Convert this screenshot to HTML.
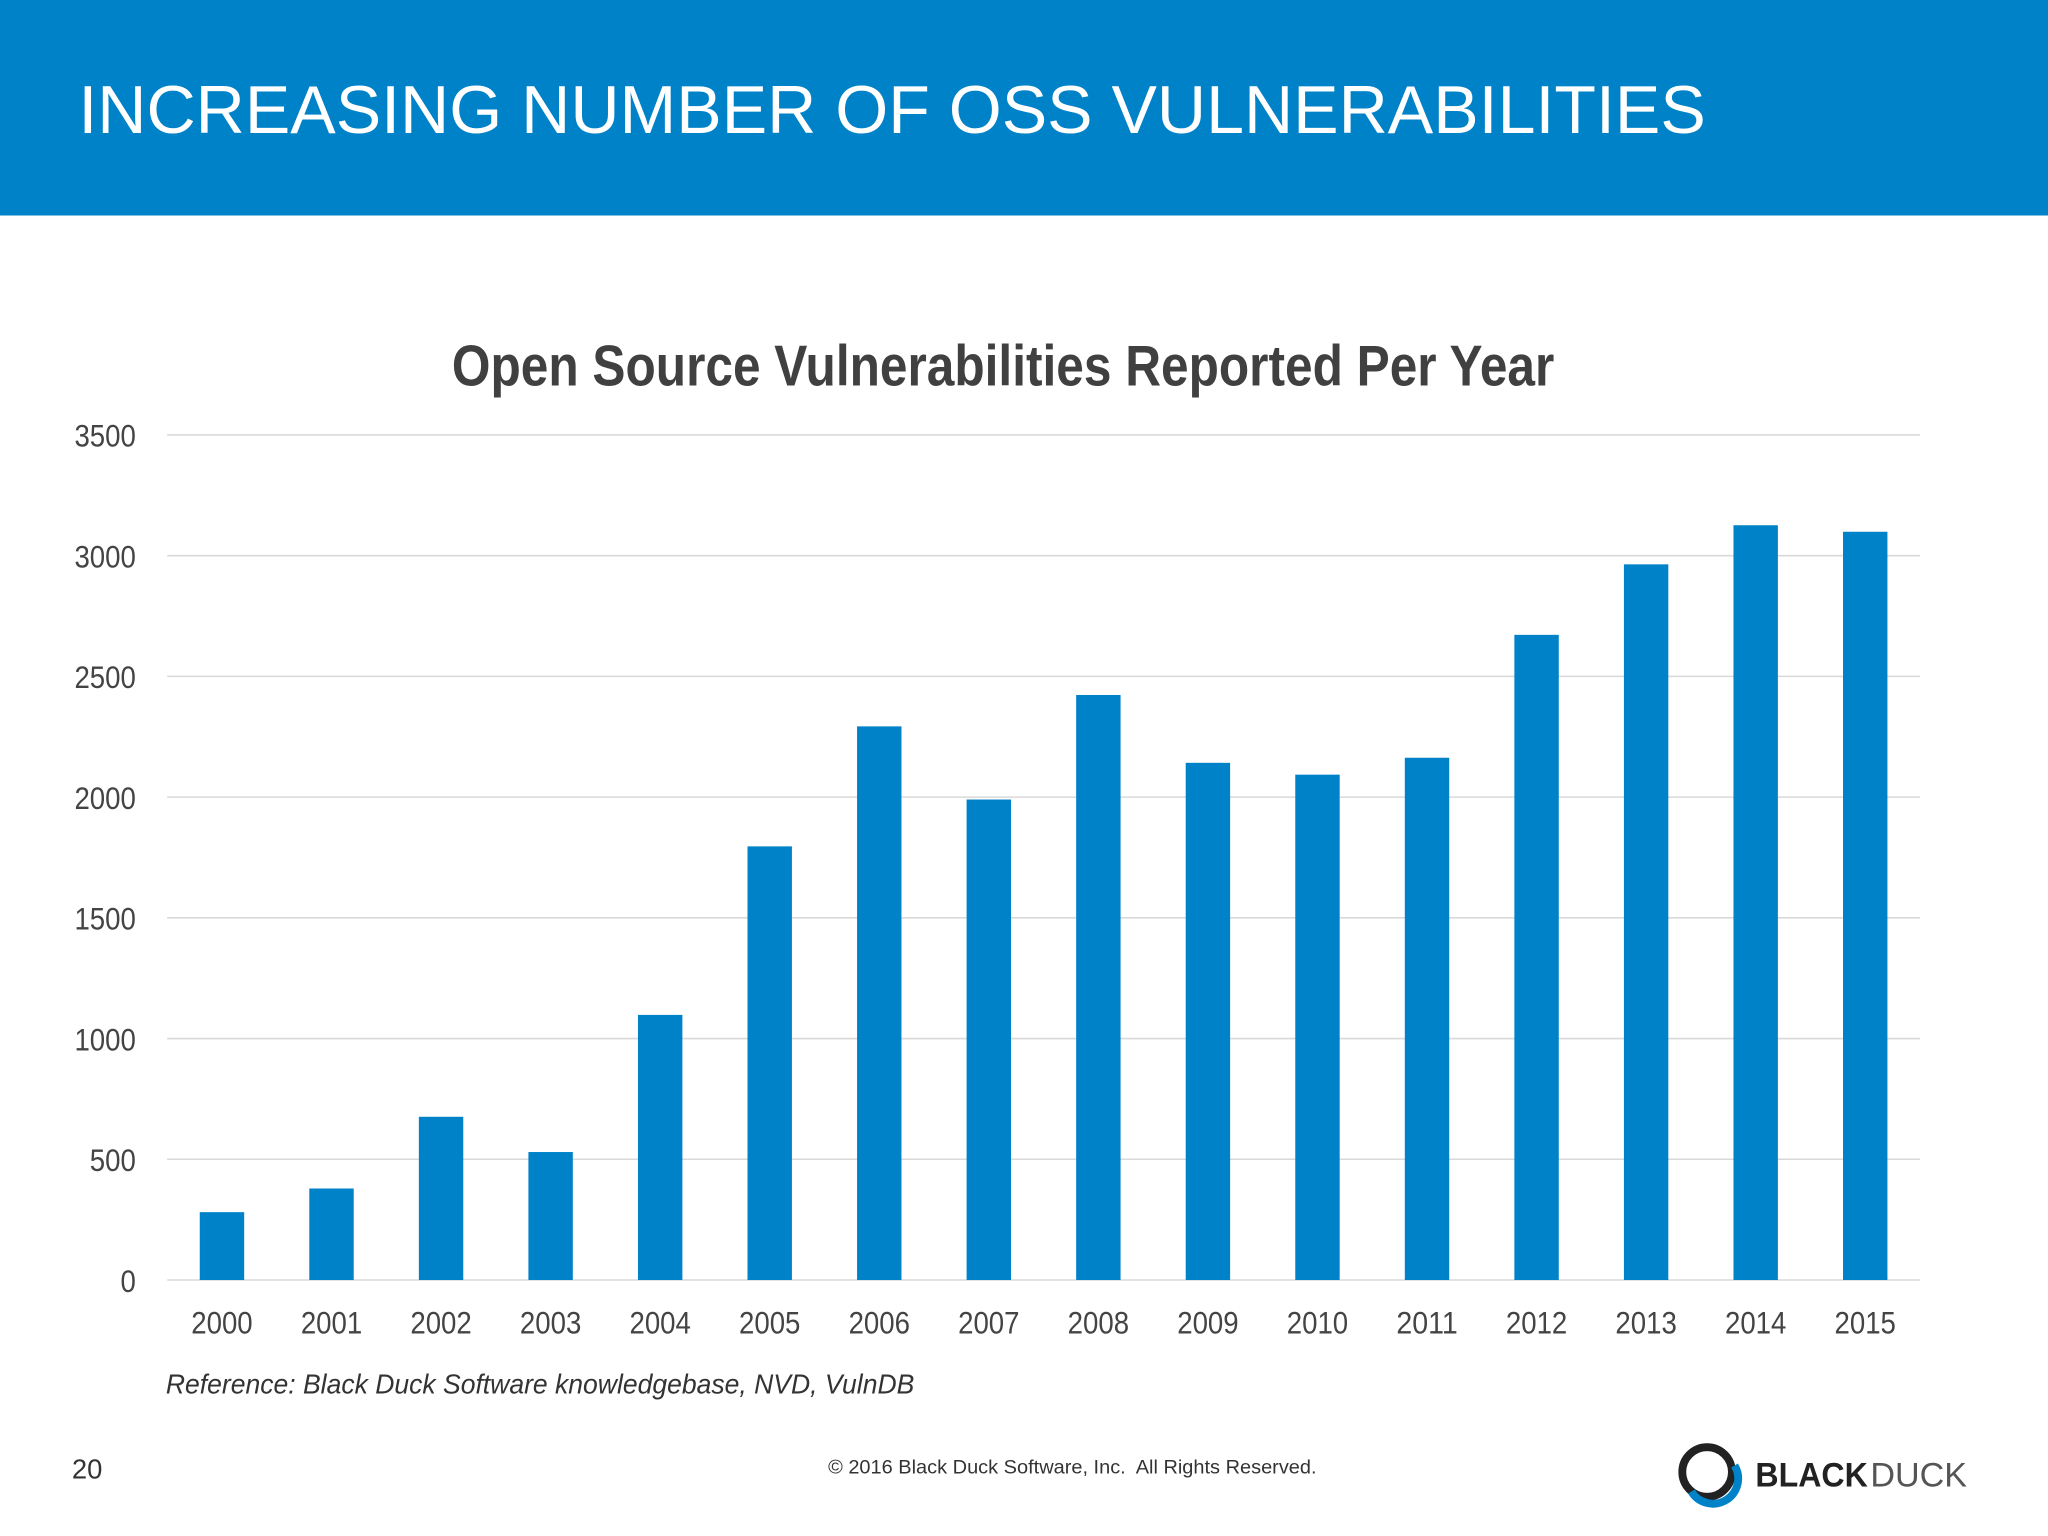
<!DOCTYPE html>
<html><head><meta charset="utf-8"><style>
html,body{margin:0;padding:0;background:#fff;}
svg{display:block;}
text{font-family:"Liberation Sans",sans-serif;}
</style></head><body>
<svg id="chart" width="2048" height="1536" viewBox="0 0 1568 1176" xmlns="http://www.w3.org/2000/svg">
<rect x="0" y="0" width="1568" height="165" fill="#0082C8"/>
<text x="60" y="102" font-size="52" fill="#fff" textLength="1246" lengthAdjust="spacingAndGlyphs">INCREASING NUMBER OF OSS VULNERABILITIES</text>
<text x="768" y="295" font-size="44" font-weight="bold" fill="#404040" text-anchor="middle" textLength="844" lengthAdjust="spacingAndGlyphs">Open Source Vulnerabilities Reported Per Year</text>
<g id="grid"></g><g id="bars"></g><g id="xlabels"></g><g id="ylabels"></g>
<text x="127" y="1067" font-size="21" font-style="italic" fill="#333" textLength="573" lengthAdjust="spacingAndGlyphs">Reference: Black Duck Software knowledgebase, NVD, VulnDB</text>
<text x="55" y="1132" font-size="21" fill="#333">20</text>
<text x="634" y="1128" font-size="15" fill="#333" textLength="374" lengthAdjust="spacingAndGlyphs" xml:space="preserve">© 2016 Black Duck Software, Inc.  All Rights Reserved.</text>
<g>
<circle cx="1307" cy="1127" r="19" fill="none" stroke="#222" stroke-width="6"/>
<path d="M1295 1142 A19 19 0 0 0 1328 1122" fill="none" stroke="#0082C8" stroke-width="6"/>
<text x="1344" y="1138" font-size="26" font-weight="bold" fill="#222" textLength="86" lengthAdjust="spacingAndGlyphs">BLACK</text>
<text x="1432" y="1138" font-size="26" fill="#555" textLength="74" lengthAdjust="spacingAndGlyphs">DUCK</text>
</g>
</svg>
<script>
const years=["2000","2001","2002","2003","2004","2005","2006","2007","2008","2009","2010","2011","2012","2013","2014","2015"];
const values=[281,379,676,530,1098,1796,2293,1990,2423,2142,2093,2163,2672,2964,3126,3099];
const yTicks=[0,500,1000,1500,2000,2500,3000,3500];
const NS="http://www.w3.org/2000/svg";
const y0=980,y1=333,maxV=3500,xL=128,xR=1470;
function yScale(v){return y0-(v/maxV)*(y0-y1);}
function xScale(i){return xL+(xR-xL)/years.length*(i+0.5);}
function mk(tag,attrs,parent){const e=document.createElementNS(NS,tag);for(const k in attrs)e.setAttribute(k,attrs[k]);document.getElementById(parent).appendChild(e);return e;}
yTicks.forEach(t=>{
 const l=mk('line',{x1:xL,x2:xR,y1:yScale(t),y2:yScale(t),stroke:'#d9d9d9','stroke-width':1.2},'grid');
 
 
 const s=String(t);
 const tx=mk('text',{x:104,y:yScale(t)+9,'font-size':24,fill:'#444','text-anchor':'end',textLength:11.75*s.length,lengthAdjust:'spacingAndGlyphs'},'ylabels');
 tx.textContent=s;
 
 
});
years.forEach((yr,i)=>{
 const bw=34;
 const r=mk('rect',{x:xScale(i)-bw/2,y:yScale(values[i]),width:bw,height:y0-yScale(values[i]),fill:'#0082C8'},'bars');
 
 
 const tx=mk('text',{x:xScale(i),y:1021,'font-size':24,fill:'#444','text-anchor':'middle',textLength:47,lengthAdjust:'spacingAndGlyphs'},'xlabels');
 tx.textContent=yr;
 
 
});
</script>
</body></html>
